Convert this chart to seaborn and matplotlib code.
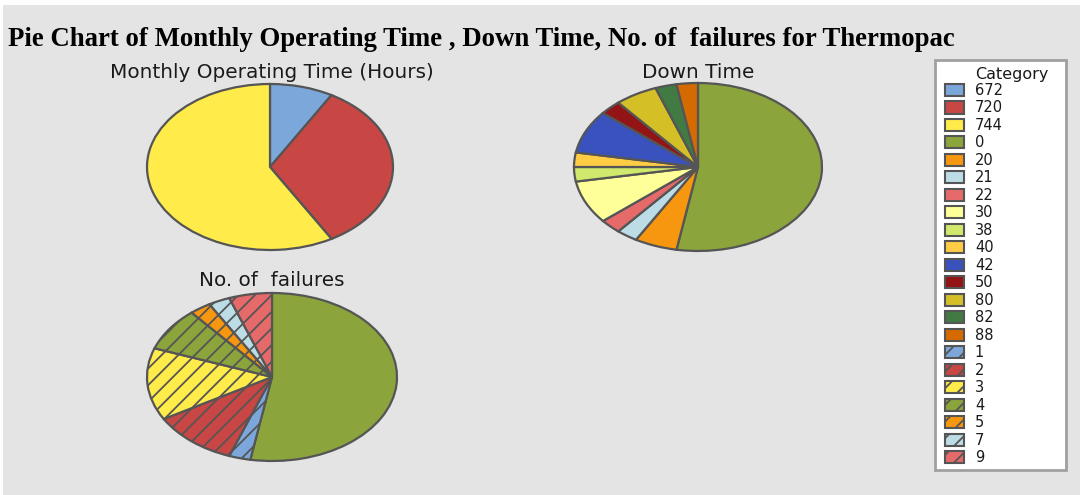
import matplotlib
matplotlib.use("Agg")
import matplotlib.pyplot as plt
import seaborn as sns
from matplotlib.patches import Patch, Rectangle

sns.set_theme(style="white")
plt.rcParams['font.family'] = ['DejaVu Sans']
plt.rcParams['hatch.color'] = '#555555'
plt.rcParams['hatch.linewidth'] = 1.3

# ---- data (counts of months) ----
op_labels = ["672", "720", "744"]
op_counts = [3, 12, 21]

down_labels = ["0", "20", "21", "22", "30", "38", "40", "42", "50", "80", "82", "88"]
down_counts = [19, 2, 1, 1, 3, 1, 1, 3, 1, 2, 1, 1]

fail_labels = ["0", "1", "2", "3", "4", "5", "7", "9"]
fail_counts = [19, 1, 4, 5, 3, 1, 1, 2]

# ---- colours ----
cmap = {
    "672": "#7BA7DB", "720": "#C84644", "744": "#FFEB4A", "0": "#8BA43B",
    "20": "#F7960F", "21": "#BCDCE6", "22": "#E76A6A", "30": "#FFFF99",
    "38": "#D0E86B", "40": "#FFCC44", "42": "#3A52BE", "50": "#931414",
    "80": "#D4C026", "82": "#417A43", "88": "#D46A00",
}
fail_cmap = {"1": "#7BA7DB", "2": "#C84644", "3": "#FFEB4A", "4": "#8BA43B",
             "5": "#F7960F", "7": "#BCDCE6", "9": "#E76A6A"}
EDGE = "#555555"
BG = "#e4e4e4"

W, H = 1080, 495
fig = plt.figure(figsize=(W / 100, H / 100), dpi=100)
fig.patch.set_facecolor("white")
fig.patches.append(Rectangle((3 / W, 0), 1 - 3 / W, 1 - 5 / H, transform=fig.transFigure,
                             facecolor=BG, edgecolor="none", zorder=-10))


def pie_axes(cx, cy, rx, ry, m=1.1):
    left = (cx - rx * m) / W
    bottom = 1 - (cy + ry * m) / H
    ax = fig.add_axes([left, bottom, 2 * rx * m / W, 2 * ry * m / H])
    return ax, m


def draw_pie(cx, cy, rx, ry, counts, colors, hatches=None):
    ax, m = pie_axes(cx, cy, rx, ry)
    wedges, _ = ax.pie(counts, colors=colors, startangle=90, counterclock=False,
                       wedgeprops=dict(edgecolor=EDGE, linewidth=1.6))
    if hatches:
        for w, h in zip(wedges, hatches):
            if h:
                w.set_hatch(h)
    for w in wedges:
        w.set_clip_on(False)
    ax.set_aspect("auto")
    ax.set_xlim(-m, m)
    ax.set_ylim(-m, m)
    ax.axis("off")
    return ax


draw_pie(270, 167, 123, 83, op_counts, [cmap[l] for l in op_labels])
draw_pie(698, 167, 124, 84, down_counts, [cmap[l] for l in down_labels])
fail_colors = [cmap["0"]] + [fail_cmap[l] for l in fail_labels[1:]]
draw_pie(272, 377, 125, 84, fail_counts, fail_colors,
         hatches=[None] + ["//"] * (len(fail_labels) - 1))

# titles
fig.text(8 / W, 1 - 39 / H,
         "Pie Chart of Monthly Operating Time , Down Time, No. of  failures for Thermopac",
         fontfamily="Liberation Serif", fontweight="bold", fontsize=19.3,
         ha="left", va="center", color="black")
tkw = dict(fontsize=14.4, ha="center", va="center", color="#1a1a1a")
fig.text(272 / W, 1 - 72 / H, "Monthly Operating Time (Hours)", **tkw)
fig.text(698 / W, 1 - 72 / H, "Down Time", **tkw)
fig.text(272 / W, 1 - 280 / H, "No. of  failures", **tkw)

# legend box
fig.patches.append(Rectangle((935 / W, 1 - 470 / H), 131 / W, 410 / H,
                             transform=fig.transFigure, facecolor="white",
                             edgecolor="#a0a0a0", linewidth=2, zorder=1))
fig.text(975 / W, 1 - 75 / H, "Category", fontsize=11.5, ha="left", va="center",
         color="#1a1a1a", zorder=3)

handles = []
labels = []
for l in op_labels:
    handles.append(Patch(facecolor=cmap[l], edgecolor=EDGE, linewidth=1.5))
    labels.append(l)
for l in down_labels:
    handles.append(Patch(facecolor=cmap[l], edgecolor=EDGE, linewidth=1.5))
    labels.append(l)
for l in fail_labels[1:]:
    handles.append(Patch(facecolor=fail_cmap[l], edgecolor=EDGE, linewidth=1.5, hatch="//"))
    labels.append(l)

leg = fig.legend(handles, labels, loc="upper left",
                 bbox_to_anchor=(945 / W, 1 - 83 / H), frameon=False,
                 fontsize=10.5, handlelength=1.3, handleheight=0.9,
                 handletextpad=0.75, labelspacing=0.17, borderpad=0, borderaxespad=0)
leg.set_zorder(3)
for t in leg.get_texts():
    t.set_color("#1a1a1a")

fig.savefig("out.png", dpi=100, facecolor=fig.get_facecolor())
